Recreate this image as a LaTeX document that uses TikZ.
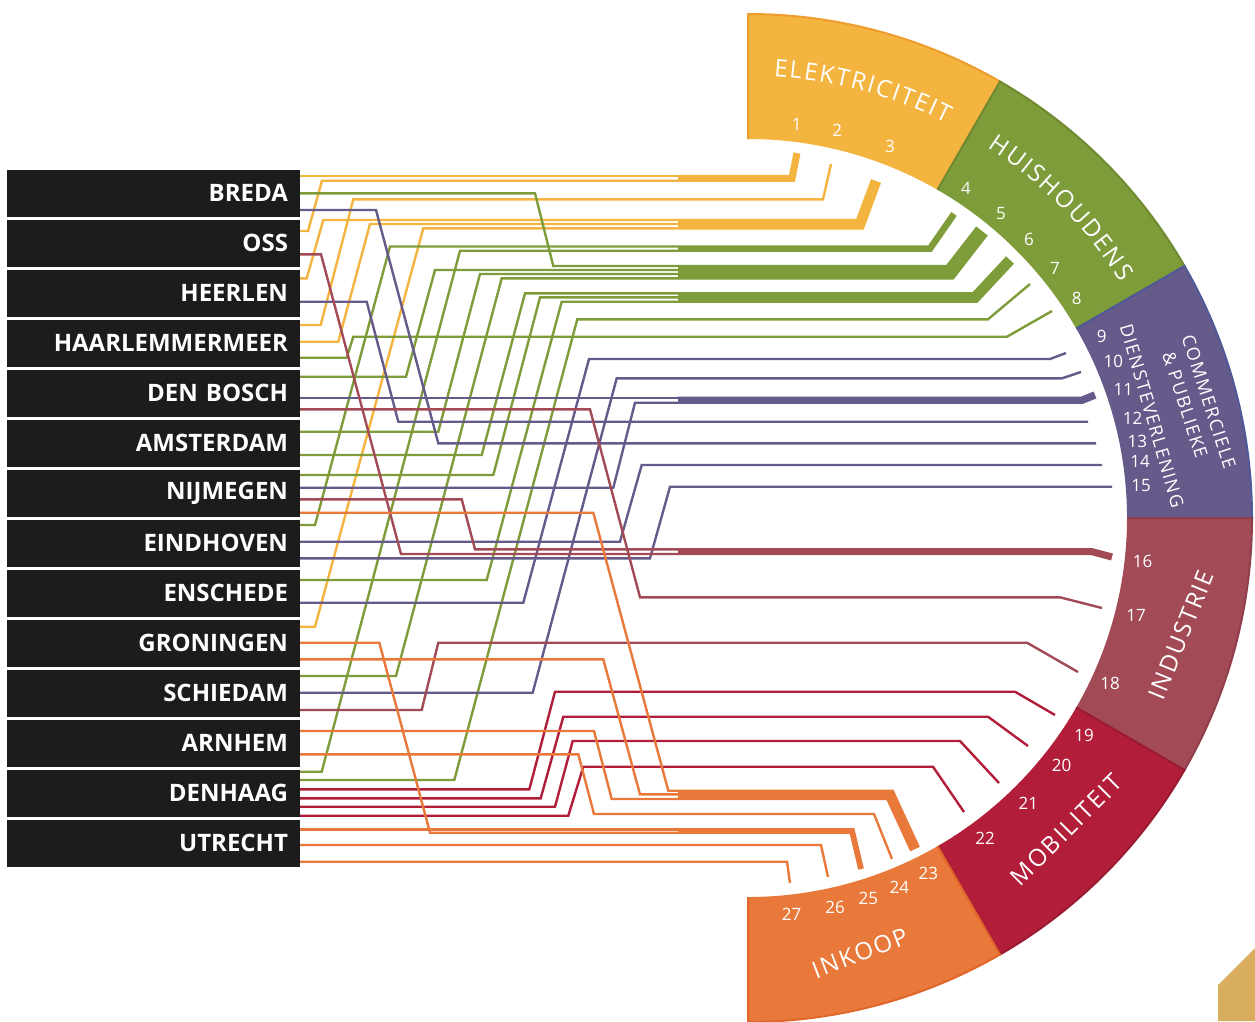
\documentclass[tikz,border=0pt]{standalone}
\usepackage{fontspec}
\setmainfont{Open Sans}
\newfontfamily\ringfont{Open Sans}[LetterSpace=8]
\usetikzlibrary{decorations.text}
\definecolor{celec}{HTML}{F3B440}
\definecolor{chh}{HTML}{7F9C3A}
\definecolor{ccp}{HTML}{665A8B}
\definecolor{cind}{HTML}{A24B57}
\definecolor{cmob}{HTML}{B21E3A}
\definecolor{cink}{HTML}{E8793A}
\definecolor{selec}{HTML}{EE9C2E}
\definecolor{shh}{HTML}{6F8A30}
\definecolor{scp}{HTML}{4F5898}
\definecolor{sind}{HTML}{8F3E4A}
\definecolor{smob}{HTML}{9A1A32}
\definecolor{sink}{HTML}{E0662A}
\definecolor{cbox}{HTML}{1C1C1C}
\definecolor{cgold}{HTML}{D8AD5E}
\newcommand\lsp[1]{{#1\kern1.9pt}}
\begin{document}
\begin{tikzpicture}[x=1pt,y=1pt,
  city/.style={fill=cbox, text=white, minimum width=293.3pt, minimum height=46.7pt,
    text width=269.3pt, align=right, inner xsep=0pt, inner ysep=0pt,
    font=\fontsize{24}{24}\selectfont\bfseries},
  con/.style={line width=2.4pt, line join=miter, line cap=butt},
  lel/.style={con, draw=celec}, lhh/.style={con, draw=chh}, lcp/.style={con, draw=ccp},
  lin/.style={con, draw=cind}, lmo/.style={con, draw=cmob}, lik/.style={con, draw=cink},
  num/.style={text=white, inner sep=0pt, font=\fontsize{17}{17}\selectfont},
  seglab/.style={text=white, inner sep=0pt, font=\ringfont\fontsize{24}{24}\selectfont},
  seglabs/.style={text=white, inner sep=0pt, font=\ringfont\fontsize{18}{18}\selectfont}]
\useasboundingbox (0,0) rectangle (1255,-1021);
\fill[white] (0,0) rectangle (1255,-1021);

% ---------- ring ----------
\begin{scope}[shift={(748,-518)}]
  \foreach \a/\b/\f/\s in {90/60/celec/selec, 60/30/chh/shh, 30/0/ccp/scp,
                           0/-30/cind/sind, -30/-60/cmob/smob, -60/-90/cink/sink}{
    \fill[\f] (\a:504) arc[start angle=\a, end angle=\b, radius=504]
      -- (\b:379) arc[start angle=\b, end angle=\a, radius=379] -- cycle;
    \draw[\s, line width=2pt] (\a:379) -- (\a:504) arc[start angle=\a, end angle=\b, radius=504] -- (\b:379);
  }
  \path[decorate, decoration={text along path, text align=center,
     text={|\fontsize{24}{24}\selectfont\color{white}|\lsp{E}\lsp{L}\lsp{E}\lsp{K}\lsp{T}\lsp{R}\lsp{I}\lsp{C}\lsp{I}\lsp{T}\lsp{E}\lsp{I}T}}]
     (100:442) arc[start angle=100, end angle=50, radius=442];
  \path[decorate, decoration={text along path, text align=center,
     text={|\fontsize{24}{24}\selectfont\color{white}|\lsp{H}\lsp{U}\lsp{I}\lsp{S}\lsp{H}\lsp{O}\lsp{U}\lsp{D}\lsp{E}\lsp{N}S}}]
     (70:441) arc[start angle=70, end angle=19.4, radius=441];
\end{scope}
\node[seglabs, rotate=-72] (lcom1) at (1209,-402) {COMMERCIELE};
\node[seglabs, rotate=-72] (lcom2) at (1185,-405) {\& PUBLIEKE};
\node[seglabs, rotate=-74] (lcom3) at (1152,-416) {DIENSTEVERLENING};
\node[seglab, rotate=68] (lind) at (1181,-635) {INDUSTRIE};
\node[seglab, rotate=45] (lmob) at (1066,-830) {MOBILITEIT};
\node[seglab, rotate=21] (link) at (860,-953) {INKOOP};

% numbers
\foreach \n/\x/\y in {1/796.7/124, 2/837.3/130.7, 3/890/146.7, 4/966/188.3, 5/1001/214,
  6/1029/239, 7/1055/268, 8/1076.7/298.3, 9/1101.7/336.7, 10/1113.3/361.7, 11/1123.3/389.3,
  12/1132.7/418.3, 13/1137.3/441, 14/1140/461.7, 15/1141/486, 16/1142.7/561.7, 17/1136/615.7,
  18/1110/683.3, 19/1084/735.7, 20/1061.7/765.7, 21/1028.3/803.3, 22/985/838.3,
  23/928.3/873.3, 24/899.3/887.3, 25/868.3/898.3, 26/835/907.7, 27/791.7/914}
  \node[num] (n\n) at (\x,-\y) {\n};

% corner
\fill[cgold] (1218,-985) -- (1255,-948) -- (1255,-1021) -- (1218,-1021) -- cycle;

% ---------- cities ----------
\node[city] (breda)     at (153.35,-193.35) {BREDA};
\node[city] (oss)       at (153.35,-243.35) {OSS};
\node[city] (heerlen)   at (153.35,-293.35) {HEERLEN};
\node[city] (haarlem)   at (153.35,-343.35) {HAARLEMMERMEER};
\node[city] (denbosch)  at (153.35,-393.35) {DEN BOSCH};
\node[city] (amsterdam) at (153.35,-443.35) {AMSTERDAM};
\node[city] (nijmegen)  at (153.35,-493.35) {NIJMEGEN};
\node[city] (eindhoven) at (153.35,-543.35) {EINDHOVEN};
\node[city] (enschede)  at (153.35,-593.35) {ENSCHEDE};
\node[city] (groningen) at (153.35,-643.35) {GRONINGEN};
\node[city] (schiedam)  at (153.35,-693.35) {SCHIEDAM};
\node[city] (arnhem)    at (153.35,-743.35) {ARNHEM};
\node[city] (denhaag)   at (153.35,-793.35) {DENHAAG};
\node[city] (utrecht)   at (153.35,-843.35) {UTRECHT};

% ---------- target end points ----------
\coordinate (t1) at (797,-153);  \coordinate (t2) at (831,-164);  \coordinate (t3) at (876,-181);
\coordinate (t4) at (954,-214);  \coordinate (t5) at (982,-231);  \coordinate (t6) at (1010,-260);
\coordinate (t7) at (1030,-284); \coordinate (t8) at (1052,-311); \coordinate (t9) at (1066,-353);
\coordinate (t10) at (1081,-372); \coordinate (t11) at (1095,-395); \coordinate (t12) at (1088,-421.7);
\coordinate (t13) at (1096,-443.3); \coordinate (t14) at (1102,-465); \coordinate (t15) at (1112,-486.7);
\coordinate (t16) at (1112,-557); \coordinate (t17) at (1102,-608); \coordinate (t18) at (1078,-672);
\coordinate (t19) at (1055,-715); \coordinate (t20) at (1028,-746); \coordinate (t21) at (999,-783);
\coordinate (t22) at (964,-812); \coordinate (t23) at (915,-849); \coordinate (t24) at (892,-859);
\coordinate (t25) at (861,-869); \coordinate (t26) at (828,-877); \coordinate (t27) at (790,-883);

% ---------- elektriciteit ----------
\draw[lel] (breda.east |- 0,-176) -- (678,-176);
\draw[lel] (oss.east |- 0,-231) -- (308,-231) -- (322,-180.7) -- (678,-180.7);
\draw[lel, line width=7.1pt] (678,-178.35) -- (792,-178.35) -- (t1);
\draw[lel] (haarlem.east |- 0,-325) -- (320.7,-325) -- (353.3,-199.3) -- (823,-199.3) -- (t2);
\draw[lel] (heerlen.east |- 0,-278.3) -- (306.7,-278.3) -- (323.3,-220) -- (678,-220);
\draw[lel] (haarlem.east |- 0,-341.7) -- (338.3,-341.7) -- (370,-224) -- (678,-224);
\draw[lel] (groningen.east |- 0,-626.7) -- (315,-626.7) -- (423.3,-228.3) -- (678,-228.3);
\draw[lel, line width=10.7pt] (678,-224.15) -- (860,-224.15) -- (t3);

% ---------- huishoudens ----------
\draw[lhh] (eindhoven.east |- 0,-525) -- (315,-525) -- (390,-246.5) -- (678,-246.5);
\draw[lhh] (denhaag.east |- 0,-771.7) -- (321.7,-771.7) -- (460,-250.7) -- (678,-250.7);
\draw[lhh, line width=6.6pt] (678,-248.6) -- (930,-248.6) -- (t4);
\draw[lhh] (breda.east |- 0,-193.3) -- (535,-193.3) -- (553.3,-266) -- (678,-266);
\draw[lhh] (denbosch.east |- 0,-376.7) -- (406,-376.7) -- (435,-270) -- (678,-270);
\draw[lhh] (amsterdam.east |- 0,-431.7) -- (438.3,-431.7) -- (480,-274) -- (678,-274);
\draw[lhh] (schiedam.east |- 0,-676) -- (396,-676) -- (501.7,-278.3) -- (678,-278.3);
\draw[lhh, line width=14.7pt] (678,-272.15) -- (950,-272.15) -- (t5);
\draw[lhh] (amsterdam.east |- 0,-455) -- (481.7,-455) -- (525,-293.3) -- (678,-293.3);
\draw[lhh] (nijmegen.east |- 0,-475) -- (493.3,-475) -- (540,-297.3) -- (678,-297.3);
\draw[lhh] (enschede.east |- 0,-580) -- (486.7,-580) -- (561.7,-301.7) -- (678,-301.7);
\draw[lhh, line width=10.8pt] (678,-297.5) -- (975,-297.5) -- (t6);
\draw[lhh] (denhaag.east |- 0,-780) -- (454.3,-780) -- (577.3,-319.3) -- (988,-319.3) -- (t7);
\draw[lhh] (haarlem.east |- 0,-357.7) -- (346.7,-357.7) -- (353.3,-336.7) -- (1007,-336.7) -- (t8);

% ---------- commerciele ----------
\draw[lcp] (enschede.east |- 0,-602.7) -- (523.3,-602.7) -- (589,-359) -- (1050,-359) -- (t9);
\draw[lcp] (schiedam.east |- 0,-692.7) -- (532.7,-692.7) -- (616.7,-378.3) -- (1062,-378.3) -- (t10);
\draw[lcp] (denbosch.east |- 0,-397.7) -- (678,-397.7);
\draw[lcp] (nijmegen.east |- 0,-487.7) -- (613.3,-487.7) -- (635,-402.7) -- (678,-402.7);
\draw[lcp, line width=7.4pt] (678,-400.2) -- (1082,-400.2) -- (t11);
\draw[lcp] (heerlen.east |- 0,-301.7) -- (366.7,-301.7) -- (398.3,-421.7) -- (t12);
\draw[lcp] (breda.east |- 0,-210) -- (376,-210) -- (438.3,-443.3) -- (t13);
\draw[lcp] (eindhoven.east |- 0,-541.7) -- (620,-541.7) -- (641.7,-465) -- (t14);
\draw[lcp] (eindhoven.east |- 0,-558.3) -- (650,-558.3) -- (670,-486.7) -- (t15);

% ---------- industrie ----------
\draw[lin] (nijmegen.east |- 0,-499.3) -- (461.7,-499.3) -- (475,-549.3) -- (678,-549.3);
\draw[lin] (oss.east |- 0,-254.3) -- (321,-254.3) -- (401,-554) -- (678,-554);
\draw[lin, line width=7.1pt] (678,-551.65) -- (1092,-551.65) -- (t16);
\draw[lin] (denbosch.east |- 0,-409.3) -- (590,-409.3) -- (640,-597.3) -- (1060,-597.3) -- (t17);
\draw[lin] (schiedam.east |- 0,-710) -- (421.7,-710) -- (438.3,-642.7) -- (1027,-642.7) -- (t18);

% ---------- mobiliteit ----------
\draw[lmo] (denhaag.east |- 0,-789.3) -- (529.3,-789.3) -- (555,-691.7) -- (1015,-691.7) -- (t19);
\draw[lmo] (denhaag.east |- 0,-798.3) -- (540.7,-798.3) -- (563.3,-716.7) -- (988,-716.7) -- (t20);
\draw[lmo] (denhaag.east |- 0,-806.7) -- (555,-806.7) -- (572.7,-741) -- (960,-741) -- (t21);
\draw[lmo] (denhaag.east |- 0,-815.7) -- (568.3,-815.7) -- (583.3,-766.7) -- (933,-766.7) -- (t22);

% ---------- inkoop ----------
\draw[lik] (nijmegen.east |- 0,-512.7) -- (593.3,-512.7) -- (668.3,-790.7) -- (678,-790.7);
\draw[lik] (groningen.east |- 0,-659.3) -- (603.3,-659.3) -- (640,-794.3) -- (678,-794.3);
\draw[lik] (arnhem.east |- 0,-731) -- (594,-731) -- (611.7,-799) -- (678,-799);
\draw[lik, line width=10.7pt] (678,-794.85) -- (890,-794.85) -- (t23);
\draw[lik] (arnhem.east |- 0,-754.3) -- (578.3,-754.3) -- (594,-814) -- (874,-814) -- (t24);
\draw[lik] (utrecht.east |- 0,-829.3) -- (678,-829.3);
\draw[lik] (groningen.east |- 0,-642.7) -- (379.3,-642.7) -- (430,-832.7) -- (678,-832.7);
\draw[lik, line width=5.8pt] (678,-831) -- (852,-831) -- (t25);
\draw[lik] (utrecht.east |- 0,-845) -- (821,-845) -- (t26);
\draw[lik] (utrecht.east |- 0,-861.7) -- (787,-861.7) -- (t27);
\end{tikzpicture}
\end{document}
